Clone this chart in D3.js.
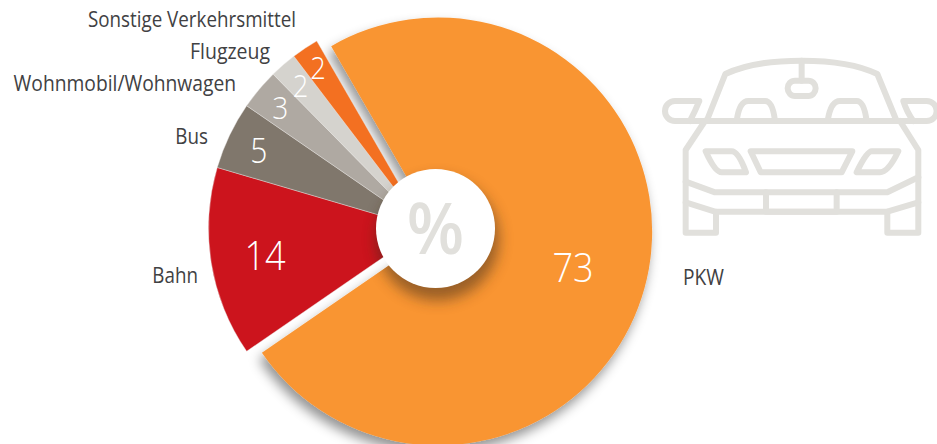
<!DOCTYPE html>
<html><head><meta charset="utf-8">
<script src="https://cdn.jsdelivr.net/npm/d3@7"></script>
<style>html,body{margin:0;padding:0;background:#fff}svg{display:block}</style>
</head><body><div id="c"></div>
<script>
const categories = ["PKW","Bahn","Bus","Wohnmobil/Wohnwagen","Flugzeug","Sonstige Verkehrsmittel"];
const values = [73,14,5,3,2,2];
const colors = ["#F99533","#CC141D","#80776C","#AFA9A2","#D5D3CE","#F37021"];
const labelPos = [[683,285,"start"],[198,283,"end"],[208,144,"end"],[236,91,"end"],[270,59,"end"],[296,27,"end"]];
const labelStretch = [.87,.855,.855,.875,.885,.855];
const valueRadius = [0,162,184,189,190,193];
const valueSize = [41,41,34,32,31,31];

const W=937,H=444,cx=425,cy=228.5,R=216.5,hole=59.5,explode=13.5;
const svg=d3.select("#c").append("svg").attr("width",W).attr("height",H).attr("viewBox",[0,0,W,H]);
const defs=svg.append("defs");
const f=defs.append("filter").attr("id","ds").attr("x","-20%").attr("y","-20%").attr("width","140%").attr("height","140%");
f.append("feDropShadow").attr("dx",-3).attr("dy",7).attr("stdDeviation",6).attr("flood-color","#000").attr("flood-opacity",.42);
const b=defs.append("filter").attr("id","blur").attr("x","-40%").attr("y","-40%").attr("width","180%").attr("height","180%");
b.append("feGaussianBlur").attr("stdDeviation",7);

const pie=d3.pie().sort(null).startAngle(-30*Math.PI/180).endAngle(330*Math.PI/180);
const arcs=pie(values);
const arc=d3.arc().innerRadius(0).outerRadius(d=>d.index===0?R-2.5:R);
const off=d=>{ if(d.index!==0) return [0,0]; const m=(d.startAngle+d.endAngle)/2; return d3.pointRadial(m,explode); };
const G=svg.append("g").attr("transform",`translate(${cx},${cy})`);

const clip=defs.append("clipPath").attr("id","sl");
clip.selectAll("path").data(arcs).join("path").attr("d",arc).attr("transform",d=>`translate(${cx+off(d)[0]},${cy+off(d)[1]})`);

G.selectAll("path.s").data(arcs).join("path").attr("class","s")
 .attr("d",arc).attr("fill",(d,i)=>colors[i])
 .attr("stroke",d=>d.index?"#e9e6e2":"none").attr("stroke-width",d=>d.index?.4:0)
 .attr("filter",d=>d.index===0?"url(#ds)":null)
 .attr("transform",d=>`translate(${off(d)})`);

// shadow of centre disc, only on the slices
svg.append("g").attr("clip-path","url(#sl)").append("circle")
 .attr("cx",437.5).attr("cy",239).attr("r",hole+2).attr("fill","#3a2a1a").attr("opacity",.5).attr("filter","url(#blur)");
svg.append("circle").attr("cx",435.5).attr("cy",228.5).attr("r",hole).attr("fill","#fff");
svg.append("text").attr("transform","translate(435.5,254) scale(.95,1)").attr("text-anchor","middle")
 .attr("font-family","'Open Sans'").attr("font-weight",600).attr("font-size",70).attr("fill","#E1E0DC").text("%");

// value labels
const fam="'Open Sans'";
G.selectAll("text.v").data(arcs).join("text").attr("class","v")
 .attr("font-family",fam).attr("font-weight",300).attr("fill","#fff")
 .attr("font-size",(d,i)=>valueSize[i]).attr("text-anchor","middle").attr("dominant-baseline","central")
 .attr("transform",d=>{
   const m=(d.startAngle+d.endAngle)/2;
   const p=d.index===0?[148,38]:d3.pointRadial(m,valueRadius[d.index]);
   return `translate(${p}) scale(.88,1)`;
 }).text(d=>d.data);

// category labels
svg.selectAll("text.l").data(categories).join("text").attr("class","l")
 .attr("font-family",fam).attr("font-size",22).attr("fill","#414143")
 .attr("transform",(d,i)=>`translate(${labelPos[i][0]},${labelPos[i][1]}) scale(${labelStretch[i]},1)`)
 .attr("text-anchor",(d,i)=>labelPos[i][2]).text(d=>d);

// car icon
const car=svg.append("g").attr("transform","translate(640,40) scale(.3333)")
 .attr("fill","none").attr("stroke","#E1E0DC").attr("stroke-width",18).attr("stroke-linejoin","round").attr("stroke-linecap","round");
const carPaths=[
"M200,243H775",
"M200,243L256,102Q340,62 485,62Q630,62 712,102L770,243",
"M485,62V122",
"M465,122H505A22,23 0 0 1 505,168H465A22,23 0 0 1 465,122Z",
"M290,243Q298,183 325,183H375Q398,183 405,243",
"M563,243Q572,183 600,183H650Q672,183 680,243",
"M195,243H105A30,30 0 0 1 105,183H178Q165,215 150,243",
"M785,243H860A30,30 0 0 0 860,183H790Q800,215 820,243",
"M195,243L137,330V578H228V515",
"M780,243L835,330V578H742V515",
"M137,425L225,457H742L835,412",
"M137,487L225,515H742L835,487",
"M378,457V515H590V457",
"M197,334H275Q295,334 318,397H245Q225,397 197,334Z",
"M332,334H637L605,397H362Z",
"M775,334H695Q680,334 650,397H720Q745,397 775,334Z"];
car.selectAll("path").data(carPaths).join("path").attr("d",d=>d);
</script></body></html>
